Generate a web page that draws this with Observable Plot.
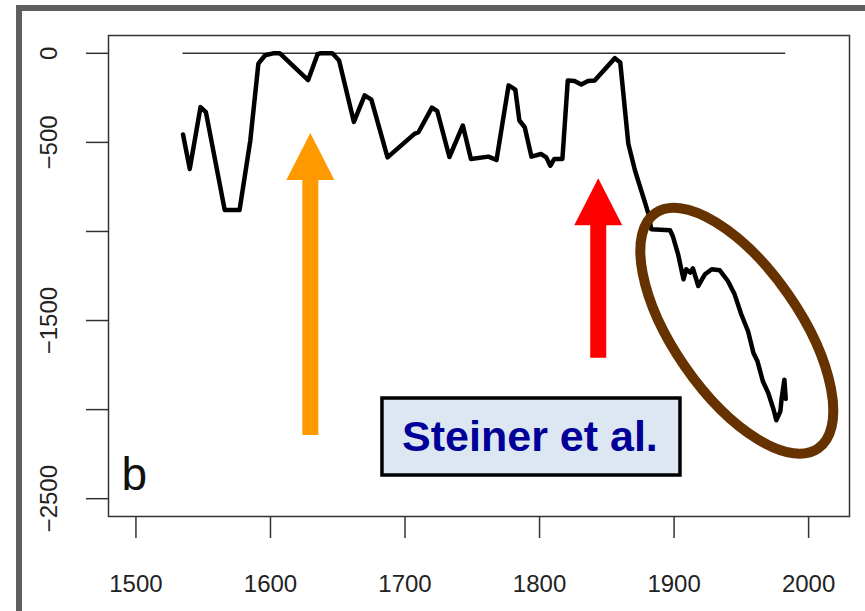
<!DOCTYPE html>
<html>
<head>
<meta charset="utf-8">
<script src="https://cdn.jsdelivr.net/npm/d3@7"></script>
<script src="https://cdn.jsdelivr.net/npm/@observablehq/plot@0.6"></script>
<style>
  html, body { margin: 0; padding: 0; background: #fff; overflow: hidden; width: 865px; height: 611px; }
  #wrap { position: relative; width: 865px; height: 611px; }
  #frame { position: absolute; left: 16px; top: 5px; width: 900px; height: 700px; border: 6px solid #5f5f5f; box-sizing: border-box; }
  #chart { position: absolute; left: 0; top: 0; }
</style>
</head>
<body>
<div id="wrap"><div id="frame"></div><div id="chart"></div></div>
<script>
// Glacier length change (m)
const years = [1535, 1540, 1548, 1552, 1566, 1577, 1585, 1591, 1596, 1602, 1607, 1628, 1635, 1637, 1646, 1651, 1662, 1670, 1675, 1687, 1697, 1707, 1710, 1720, 1724, 1733, 1743, 1749, 1762, 1768, 1777, 1782, 1785, 1789, 1794, 1801, 1805, 1808, 1811, 1817, 1821, 1826, 1831, 1836, 1841, 1856, 1860, 1866, 1871, 1878, 1881, 1883, 1897, 1899, 1903, 1907, 1909, 1912, 1914, 1918, 1923, 1928, 1934, 1940, 1945, 1950, 1955, 1959, 1962, 1966, 1970, 1974, 1976, 1979, 1980, 1982, 1983];
const lengths = [-456, -649, -302, -330, -880, -880, -490, -58, -11, 0, 0, -150, -5, 0, 0, -40, -385, -236, -260, -584, -518, -452, -443, -305, -325, -582, -405, -593, -580, -599, -180, -204, -377, -415, -580, -565, -584, -631, -593, -593, -152, -156, -175, -156, -152, -27, -52, -508, -659, -828, -903, -987, -993, -1025, -1128, -1269, -1212, -1231, -1207, -1306, -1240, -1212, -1218, -1278, -1353, -1466, -1560, -1682, -1729, -1841, -1907, -2001, -2060, -2010, -1935, -1832, -1940];

const xTicks = [1500, 1600, 1700, 1800, 1900, 2000];
const xTickLabels = ["1500", "1600", "1700", "1800", "1900", "2000"];
const yTicks = [0, -500, -1000, -1500, -2000, -2500];
const yTickLabels = ["0", "\u2212500", "", "\u22121500", "", "\u22122500"];

// annotations (data-space anchors)
const arrowYears = [1630, 1844];
const arrowTips = [-450, -704];
const arrowBases = [-2145, -1712];
const arrowColors = ["#FF9900", "#FF0000"];
const ellipseCenter = [1947, -1560];
const labelText = "Steiner et al.";
const labelCenter = [1794, -2151];
const panelLetter = "b";

const data = years.map((y, i) => ({year: y, length: lengths[i]}));
const xt = xTicks.map((v, i) => ({v, label: xTickLabels[i]}));
const yt = yTicks.map((v, i) => ({v, label: yTickLabels[i]}));

const font = "Liberation Sans, Arial, Helvetica, sans-serif";

function annotations(index, scales) {
  const g = d3.create("svg:g");
  // ellipse
  const ex = scales.x(ellipseCenter[0]), ey = scales.y(ellipseCenter[1]);
  g.append("ellipse")
    .attr("cx", 0).attr("cy", 0).attr("rx", 143).attr("ry", 63)
    .attr("transform", `translate(${ex},${ey}) rotate(55.3)`)
    .attr("fill", "none").attr("stroke", "#663300").attr("stroke-width", 10);
  // block arrows
  arrowYears.forEach((yr, i) => {
    const cx = scales.x(yr), tip = scales.y(arrowTips[i]), base = scales.y(arrowBases[i]);
    const hw = 24, sw = 8, hh = 47;
    const p = [[cx, tip], [cx + hw, tip + hh], [cx + sw, tip + hh], [cx + sw, base], [cx - sw, base], [cx - sw, tip + hh], [cx - hw, tip + hh]];
    g.append("path").attr("d", "M" + p.map(q => q.join(",")).join("L") + "Z").attr("fill", arrowColors[i]);
  });
  // label box
  const lx = scales.x(labelCenter[0]), ly = scales.y(labelCenter[1]);
  g.append("rect").attr("x", lx - 149).attr("y", ly - 38).attr("width", 298).attr("height", 77)
    .attr("fill", "#DDE7F2").attr("stroke", "#000").attr("stroke-width", 3.5);
  g.append("text").attr("x", lx - 1).attr("y", ly).attr("dy", "0.36em")
    .attr("text-anchor", "middle").attr("font-family", font).attr("font-weight", "bold")
    .attr("font-size", 43).attr("fill", "#000099").text(labelText);
  return g.node();
}

const chart = Plot.plot({
  width: 865,
  height: 611,
  marginLeft: 108,
  marginTop: 35,
  marginRight: 16,
  marginBottom: 95,
  style: {fontFamily: font, background: "transparent", overflow: "visible"},
  x: {domain: [1479.6, 2030.4], axis: null},
  y: {domain: [-2600, 100], axis: null},
  marks: [
    Plot.frame({stroke: "#333", strokeWidth: 1.5}),
    Plot.axisX(xTicks, {tickSize: 22, tickFormat: () => "", stroke: "#333", strokeWidth: 1.5}),
    Plot.axisY(yTicks, {tickSize: 22, tickFormat: () => "", stroke: "#333", strokeWidth: 1.5}),
    Plot.text(xt, {x: "v", text: "label", frameAnchor: "bottom", dy: 68, lineAnchor: "middle", fontSize: 24, fill: "#222"}),
    Plot.text(yt, {y: "v", text: "label", frameAnchor: "left", dx: -59, rotate: -90, textAnchor: "middle", lineAnchor: "middle", fontSize: 24, fill: "#222"}),
    Plot.ruleY([0], {x1: d3.min(years), x2: d3.max(years), stroke: "#333", strokeWidth: 1.5}),
    Plot.line(data, {x: "year", y: "length", stroke: "black", strokeWidth: 4.5, strokeLinejoin: "round", strokeLinecap: "round"}),
    Plot.text([panelLetter], {frameAnchor: "bottom-left", dx: 13, dy: -27, text: d => d, fontSize: 46, textAnchor: "start", lineAnchor: "bottom", fill: "#111"}),
    annotations
  ]
});
document.getElementById("chart").appendChild(chart);
</script>
</body>
</html>
